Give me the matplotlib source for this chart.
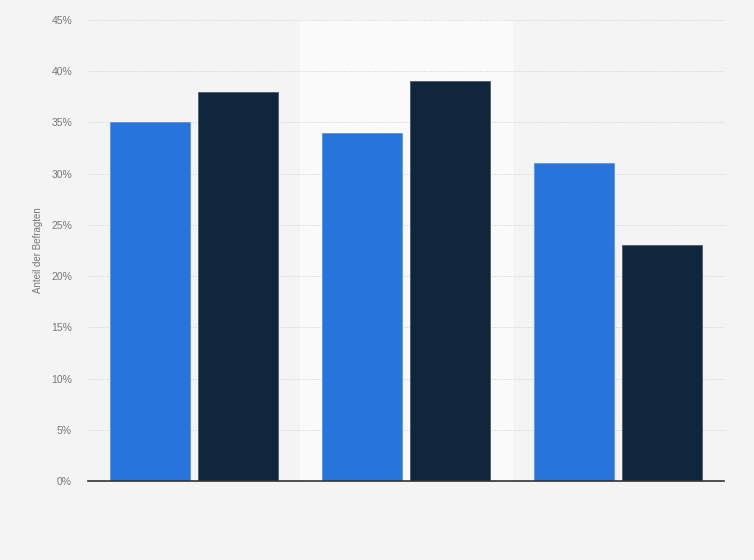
import matplotlib
matplotlib.use("Agg")
import matplotlib.pyplot as plt
import numpy as np
from matplotlib.ticker import FuncFormatter

plt.rcParams['font.family'] = ['Liberation Sans', 'DejaVu Sans']

categories = ["", "", ""]
series_a = [35, 34, 31]
series_b = [38, 39, 23]
yticks = [0, 5, 10, 15, 20, 25, 30, 35, 40, 45]

fig = plt.figure(figsize=(7.54, 5.6), dpi=100)
fig.patch.set_facecolor("#f4f4f4")
ax = fig.add_axes([88/754, 79/560, 636/754, 461/560])
ax.set_facecolor("#f4f4f4")

x = np.arange(len(categories))
w = 0.377
gap = 0.021
ax.axvspan(0.5, 1.5, color="#fafafa", zorder=0)
ax.bar(x - w/2 - gap, series_a, width=w, color="#2775db", edgecolor="#5a95e6", linewidth=0.6, zorder=3)
ax.bar(x + w/2 + gap, series_b, width=w, color="#10263d", edgecolor="#4a5a6a", linewidth=0.6, zorder=3)

ax.set_xlim(-0.5, 2.5)
ax.set_ylim(0, 45)
ax.set_yticks(yticks)
ax.yaxis.set_major_formatter(FuncFormatter(lambda v, p: f"{int(v)}%"))
ax.set_xticks([])
ax.grid(axis="y", color="#d0d0d0", linestyle=(0, (1, 1.5)), linewidth=0.7, zorder=1)
for s in ["top", "right", "left"]:
    ax.spines[s].set_visible(False)
ax.spines["bottom"].set_color("#333333")
ax.spines["bottom"].set_linewidth(1.2)
ax.spines["bottom"].set_zorder(4)
ax.tick_params(axis="y", length=0, labelsize=7.5, labelcolor="#777777", pad=11.5)
ax.set_ylabel("Anteil der Befragten", fontsize=7, color="#777777", labelpad=6)

fig.savefig("out.png", dpi=100, facecolor=fig.get_facecolor())
